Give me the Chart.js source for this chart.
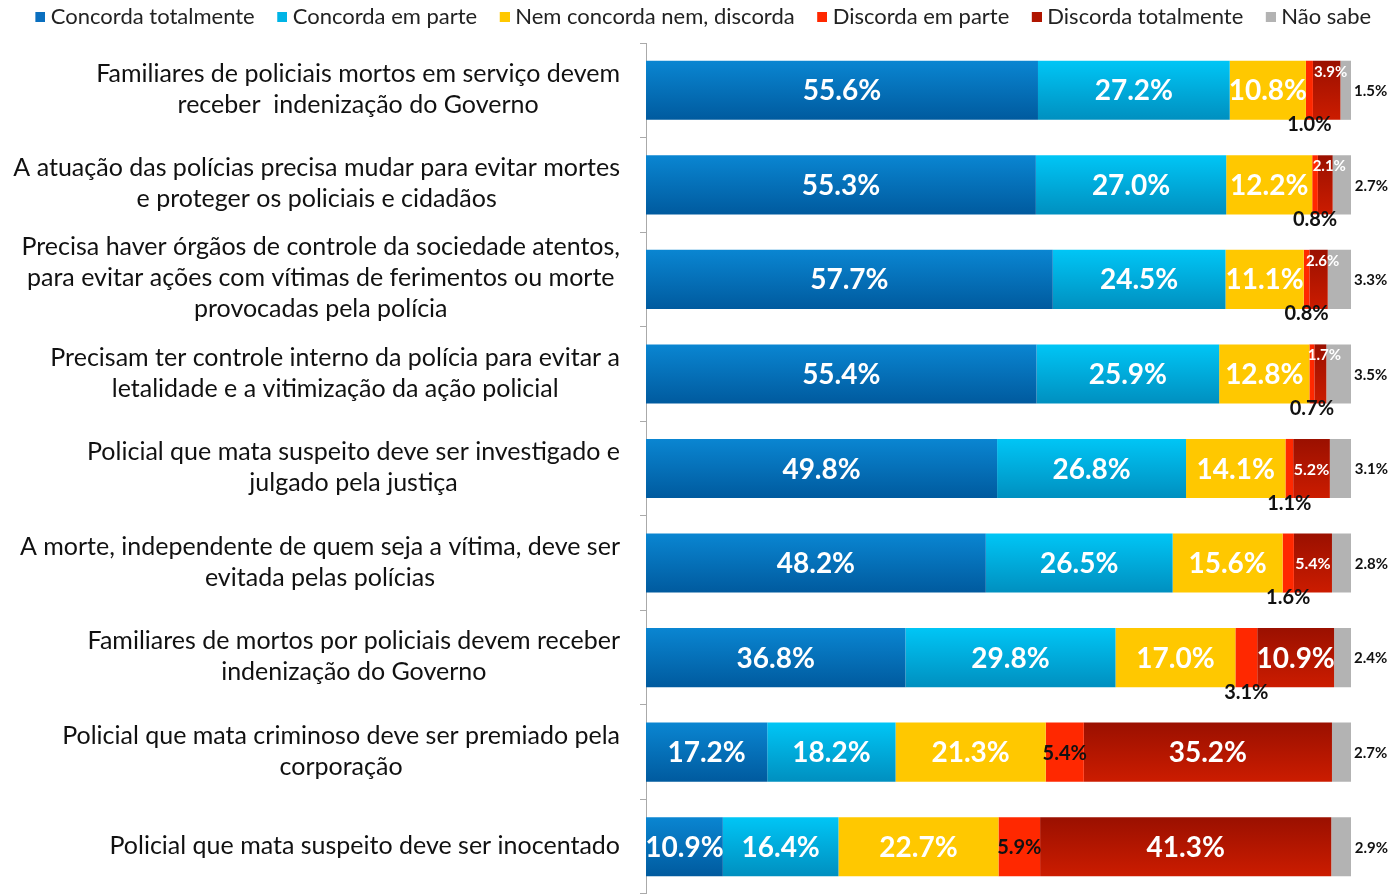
<!DOCTYPE html>
<html lang="pt">
<head>
<meta charset="UTF-8">
<title>Opinião sobre ações policiais</title>
<style>
  body { margin: 0; background: #fff; }
  #wrap { width: 1390px; height: 894px; }
</style>
</head>
<body>
<div id="wrap"><canvas id="chart" width="1390" height="894"></canvas></div>

<script src="https://cdn.jsdelivr.net/npm/chart.js"></script>
<script>
// categories (one entry per bar, lines of the label)
const categories = [
  ['Familiares de policiais mortos em serviço devem', 'receber  indenização do Governo'],
  ['A atuação das polícias precisa mudar para evitar mortes', 'e proteger os policiais e cidadãos'],
  ['Precisa haver órgãos de controle da sociedade atentos,', 'para evitar ações com vítimas de ferimentos ou morte', 'provocadas pela polícia'],
  ['Precisam ter controle interno da polícia para evitar a', 'letalidade e a vitimização da ação policial'],
  ['Policial que mata suspeito deve ser investigado e', 'julgado pela justiça'],
  ['A morte, independente de quem seja a vítima, deve ser', 'evitada pelas polícias'],
  ['Familiares de mortos por policiais devem receber', 'indenização do Governo'],
  ['Policial que mata criminoso deve ser premiado pela', 'corporação'],
  ['Policial que mata suspeito deve ser inocentado']
];

const seriesNames = ['Concorda totalmente', 'Concorda em parte', 'Nem concorda nem, discorda',
  'Discorda em parte', 'Discorda totalmente', 'Não sabe'];

const concordaTotalmente = [55.6, 55.3, 57.7, 55.4, 49.8, 48.2, 36.8, 17.2, 10.9];
const concordaEmParte    = [27.2, 27.0, 24.5, 25.9, 26.8, 26.5, 29.8, 18.2, 16.4];
const nemConcordaNem     = [10.8, 12.2, 11.1, 12.8, 14.1, 15.6, 17.0, 21.3, 22.7];
const discordaEmParte    = [1.0, 0.8, 0.8, 0.7, 1.1, 1.6, 3.1, 5.4, 5.9];
const discordaTotalmente = [3.9, 2.1, 2.6, 1.7, 5.2, 5.4, 10.9, 35.2, 41.3];
const naoSabe            = [1.5, 2.7, 3.3, 3.5, 3.1, 2.8, 2.4, 2.7, 2.9];

const FONT = 'Lato, "Open Sans", sans-serif';
const legendColors = ['#0a6fbf', '#00b4e6', '#ffc800', '#ff2800', '#b01500', '#b3b3b3'];

// vertical gradient per bar, solid colour for the legend
function grad(solid, top, bottom) {
  return function (ctx) {
    if (ctx.type !== 'data') return solid;
    const chart = ctx.chart;
    const y = chart.scales.y;
    if (!y || !chart.chartArea) return solid;
    const py = y.getPixelForValue(ctx.dataIndex);
    const g = chart.ctx.createLinearGradient(0, py - 30, 0, py + 30);
    g.addColorStop(0, top);
    g.addColorStop(1, bottom);
    return g;
  };
}

const colors = [
  grad(legendColors[0], '#0a86d2', '#005a9e'),
  grad(legendColors[1], '#00c6f6', '#008fbf'),
  legendColors[2],
  legendColors[3],
  grad(legendColors[4], '#9a1000', '#cc1c00'),
  legendColors[5]
];

const values = [concordaTotalmente, concordaEmParte, nemConcordaNem, discordaEmParte, discordaTotalmente, naoSabe];

// small square legend marker, sitting close to its text
function legendMark(color) {
  const cv = document.createElement('canvas');
  cv.width = 32; cv.height = 10;
  const c = cv.getContext('2d');
  c.fillStyle = color;
  c.fillRect(22, 0, 10, 10);
  return cv;
}
const legendMarks = legendColors.map(legendMark);

// category labels: each block centred on its own widest line, block right-aligned
const catLabels = {
  id: 'catLabels',
  afterDraw(chart) {
    const c = chart.ctx, y = chart.scales.y;
    const right = 620, lh = 31;
    c.save();
    c.font = '25px ' + FONT;
    c.fillStyle = '#111';
    c.textAlign = 'center';
    c.textBaseline = 'middle';
    categories.forEach((lines, i) => {
      const w = Math.max(...lines.map(l => c.measureText(l).width));
      const cx = right - w / 2;
      const cy = y.getPixelForValue(i) - 1;
      lines.forEach((l, k) => {
        c.fillText(l, cx, cy + (k - (lines.length - 1) / 2) * lh);
      });
    });
    c.restore();
  }
};

// value labels on / next to the segments
const valueLabels = {
  id: 'valueLabels',
  afterDatasetsDraw(chart) {
    const c = chart.ctx;
    c.save();
    c.textBaseline = 'middle';
    chart.data.datasets.forEach((ds, di) => {
      const meta = chart.getDatasetMeta(di);
      meta.data.forEach((bar, j) => {
        const v = ds.data[j];
        const txt = v.toFixed(1) + '%';
        const mid = (bar.x + bar.base) / 2;
        const top = bar.y - bar.height / 2, bottom = bar.y + bar.height / 2;
        let x = mid, yy = bar.y + 1, size = 28, color = '#fff', align = 'center';
        if (di === 3) {
          color = '#111';
          size = 20;
          if (v < 5) yy = bottom + 5;
        } else if (di === 4) {
          if (v < 5) { size = 15; yy = top + 11; x = mid + 4; }
          else if (v < 10) { size = 16; }
        } else if (di === 5) {
          color = '#111'; size = 15; align = 'left'; x = bar.x + 3;
        }
        c.font = 'bold ' + size + 'px ' + FONT;
        c.fillStyle = color;
        c.textAlign = align;
        c.fillText(txt, x, yy);
      });
    });
    c.restore();
  }
};

new Chart(document.getElementById('chart'), {
  type: 'bar',
  data: {
    labels: categories,
    datasets: seriesNames.map((name, i) => ({
      label: name,
      data: values[i],
      backgroundColor: colors[i],
      borderWidth: 0,
      barPercentage: 0.625,
      categoryPercentage: 1
    }))
  },
  options: {
    indexAxis: 'y',
    responsive: false,
    animation: false,
    layout: { padding: 0 },
    scales: {
      // hidden top axis only used as a gap under the legend
      x: {
        stacked: true, min: 0, max: 100, position: 'top',
        afterFit(scale) { scale.height = 5; },
        ticks: { display: false },
        grid: { display: false },
        border: { display: false }
      },
      y: {
        stacked: true,
        afterFit(scale) { scale.width = 646; },
        ticks: { display: false },
        grid: { offset: true, drawOnChartArea: false, drawTicks: true, tickLength: 6, color: '#aaa' },
        border: { display: true, color: '#aaa' }
      },
      // empty right axis keeps room for the "Não sabe" labels
      yRight: {
        type: 'category',
        position: 'right',
        afterFit(scale) { scale.width = 39; },
        ticks: { display: false },
        grid: { display: false },
        border: { display: false }
      }
    },
    plugins: {
      legend: {
        position: 'top',
        labels: {
          font: { family: FONT, size: 22 },
          color: '#222',
          usePointStyle: true,
          pointStyleWidth: 21,
          boxHeight: 10,
          padding: 6,
          generateLabels(chart) {
            const items = Chart.defaults.plugins.legend.labels.generateLabels(chart);
            items.forEach((it, i) => { it.pointStyle = legendMarks[i]; });
            return items;
          }
        }
      },
      tooltip: { enabled: false }
    }
  },
  plugins: [catLabels, valueLabels]
});
</script>
</body>
</html>
